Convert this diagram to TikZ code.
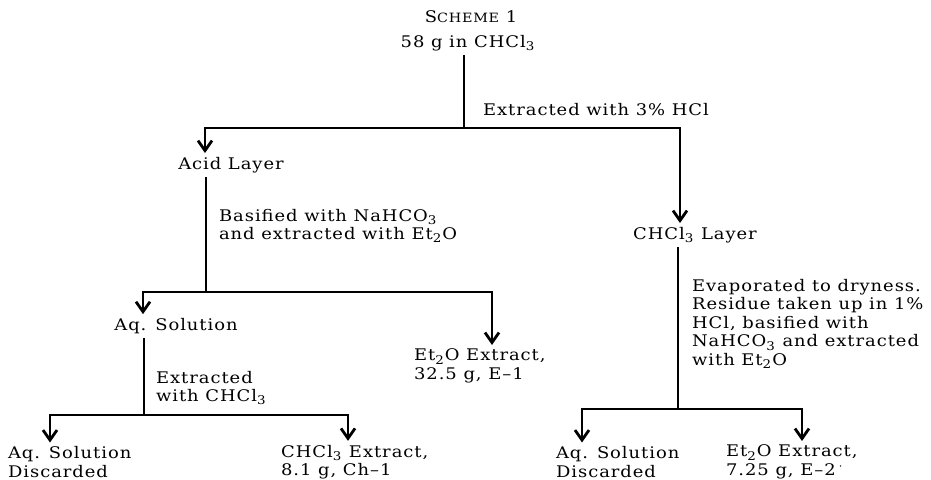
\documentclass[tikz,border=0pt]{standalone}
\usepackage{fontspec}
\setmainfont{DejaVu Serif}[FakeStretch=1.12,LetterSpace=6]
\usetikzlibrary{arrows.meta}

\newcommand{\chcl}{CHCl\textsubscript{3}}
\newcommand{\eto}{Et\textsubscript{2}O}
\newcommand{\nahco}{NaHCO\textsubscript{3}}

\begin{document}
\begin{tikzpicture}[x=0.5pt,y=-0.5pt,line width=1.1pt,>={Straight Barb[length=5pt,width=7pt,line width=1.4pt]},
  lbl/.style={inner xsep=0pt,inner ysep=1.5pt,font=\fontsize{8}{9.2}\selectfont,align=left,anchor=west},
  ttl/.style={inner xsep=0pt,inner ysep=1.5pt,font=\fontsize{8}{9.2}\selectfont}]
  \useasboundingbox (0,0) rectangle (931,480);
  % titulo y muestra
  \node[ttl] (scheme) at (471,17) {S{\fontsize{6.4}{7}\selectfont CHEME} 1};
  \node[ttl] (start) at (468,43) {58 g in \chcl};
  \node[lbl] (stepA) at (482,110) {Extracted with 3\% HCl};
  \coordinate (b1) at (464,128);
  \coordinate (b1L) at (205,128);
  \coordinate (b1R) at (680,128);
  \node[ttl] (acid) at (231,165) {Acid Layer};
  \node[ttl] (chl) at (695,235) {\chcl{} Layer};
  \draw (start.south -| b1) -- (b1);
  \draw[->] (b1) -- (b1L) -- (b1L |- acid.north);
  \draw[->] (b1) -- (b1R) -- (b1R |- chl.north);
  % capa acida
  \node[lbl] (stepB) at (218,226) {Basified with \nahco\\and extracted with \eto};
  \coordinate (b2) at (206,292);
  \coordinate (b2L) at (143,292);
  \coordinate (b2R) at (492,292);
  \node[ttl] (aq) at (176,326) {Aq. Solution};
  \node[lbl] (etA) at (413,366) {\eto{} Extract,\\32.5 g, E--1};
  \draw (acid.south -| b2) -- (b2);
  \draw[->] (b2) -- (b2L) -- (b2L |- aq.north);
  \draw[->] (b2) -- (b2R) -- (b2R |- etA.north);
  % solucion acuosa
  \node[lbl] (stepC) at (155,388) {Extracted\\with \chcl};
  \coordinate (b3) at (144,415);
  \coordinate (b3L) at (50,415);
  \coordinate (b3R) at (348,415);
  \node[lbl] (aqA) at (7,462) {Aq. Solution\\Discarded};
  \node[lbl] (chA) at (280,462) {\chcl{} Extract,\\8.1 g, Ch--1};
  \draw (aq.south -| b3) -- (b3);
  \draw[->] (b3) -- (b3L) -- (b3L |- aqA.north);
  \draw[->] (b3) -- (b3R) -- (b3R |- chA.north);
  % capa de cloroformo
  \node[lbl] (stepD) at (691,324) {Evaporated to dryness.\\Residue taken up in 1\%\\HCl, basified with\\\nahco{} and extracted\\with \eto};
  \coordinate (b4) at (678,409);
  \coordinate (b4L) at (582,409);
  \coordinate (b4R) at (802,409);
  \node[lbl] (aqB) at (555,462) {Aq. Solution\\Discarded};
  \node[lbl] (etB) at (725,462) {\eto{} Extract,\\7.25 g, E--2\,$^{\cdot}$};
  \draw (chl.south -| b4) -- (b4);
  \draw[->] (b4) -- (b4L) -- (b4L |- aqB.north);
  \draw[->] (b4) -- (b4R) -- (b4R |- etB.north);
\end{tikzpicture}
\end{document}
